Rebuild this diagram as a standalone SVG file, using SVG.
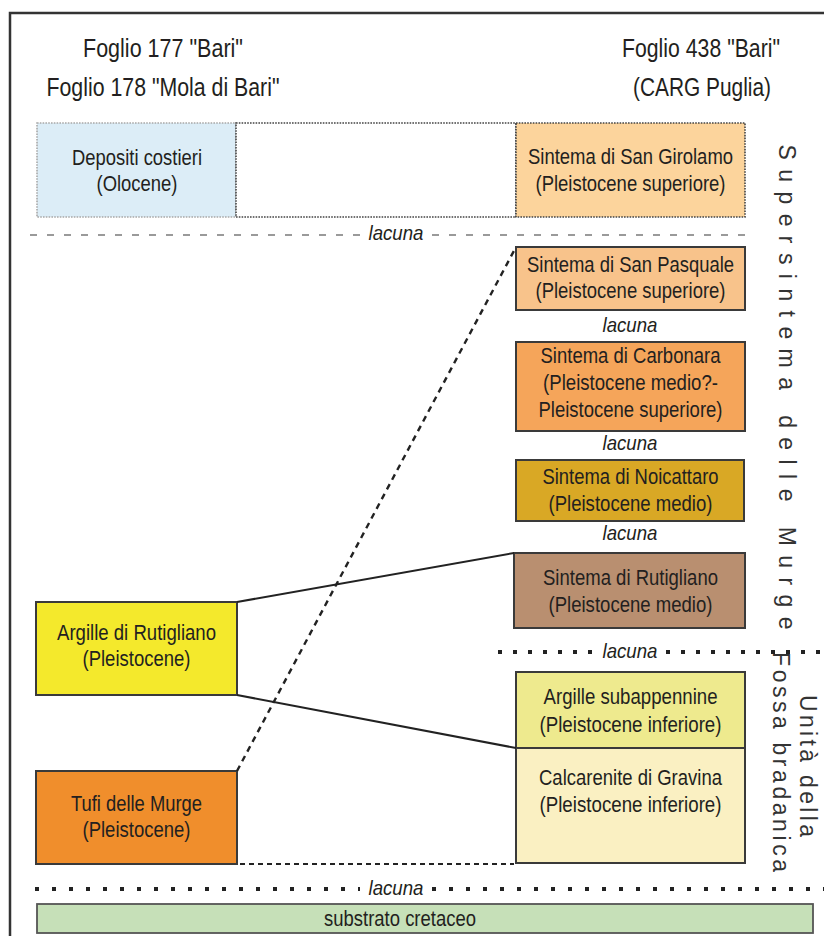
<svg xmlns="http://www.w3.org/2000/svg" width="824" height="936" viewBox="0 0 824 936">
<style>
text{font-family:"Liberation Sans",Arial,sans-serif;fill:#231f20}
.h{font-size:25px;text-anchor:middle}
.b{font-size:21.5px;text-anchor:middle}
.l{font-size:21px;font-style:italic;text-anchor:middle}
.v{font-size:23px;text-anchor:middle;fill:#333}
.box{stroke:#3a3a3a;stroke-width:2}
.dotbox{stroke:#444;stroke-width:1.6;stroke-dasharray:1.6 1.2}
.conn{fill:none;stroke:#222}
.gdash{stroke:#9a9a9a;stroke-width:2;stroke-dasharray:7 10}
.dots{stroke:#222;stroke-width:4;stroke-dasharray:4 11}
.dots2{stroke:#222;stroke-width:4;stroke-dasharray:4 13}
</style>
<rect x="0" y="0" width="824" height="936" fill="#ffffff"/>
<rect x="10" y="13" width="900" height="1000" fill="none" stroke="#333" stroke-width="2.5"/>

<g id="headers">
<text class="h" x="163" y="57" textLength="160" lengthAdjust="spacingAndGlyphs">Foglio 177 "Bari"</text>
<text class="h" x="163" y="96" textLength="233" lengthAdjust="spacingAndGlyphs">Foglio 178 "Mola di Bari"</text>
<text class="h" x="701" y="57" textLength="158" lengthAdjust="spacingAndGlyphs">Foglio 438 "Bari"</text>
<text class="h" x="702" y="96" textLength="138" lengthAdjust="spacingAndGlyphs">(CARG Puglia)</text>
</g>

<g id="depositi-costieri">
<rect x="37" y="123" width="199" height="94" fill="#dcedf7" stroke="#a8a8a8" stroke-width="1.6" stroke-dasharray="1.6 1.2"/>
<text class="b" x="137" y="165" textLength="130" lengthAdjust="spacingAndGlyphs">Depositi costieri</text>
<text class="b" x="137" y="191" textLength="81" lengthAdjust="spacingAndGlyphs">(Olocene)</text>
</g>

<g id="vuoto">
<rect x="236" y="123" width="280" height="94" fill="#ffffff" class="dotbox"/>
</g>

<g id="san-girolamo">
<rect x="516" y="123" width="229" height="94" fill="#fcd49c" class="dotbox"/>
<text class="b" x="630.5" y="164" textLength="205" lengthAdjust="spacingAndGlyphs">Sintema di San Girolamo</text>
<text class="b" x="630.5" y="191" textLength="190" lengthAdjust="spacingAndGlyphs">(Pleistocene superiore)</text>
</g>

<g id="san-pasquale">
<rect x="516" y="247" width="229" height="63" fill="#f8c38b" class="box"/>
<text class="b" x="630.5" y="272" textLength="207" lengthAdjust="spacingAndGlyphs">Sintema di San Pasquale</text>
<text class="b" x="630.5" y="298" textLength="190" lengthAdjust="spacingAndGlyphs">(Pleistocene superiore)</text>
</g>

<g id="carbonara">
<rect x="516" y="342" width="229" height="89" fill="#f5a55a" class="box"/>
<text class="b" x="630.5" y="363" textLength="180" lengthAdjust="spacingAndGlyphs">Sintema di Carbonara</text>
<text class="b" x="630.5" y="390" textLength="175" lengthAdjust="spacingAndGlyphs">(Pleistocene medio?-</text>
<text class="b" x="630.5" y="417" textLength="184" lengthAdjust="spacingAndGlyphs">Pleistocene superiore)</text>
</g>

<g id="noicattaro">
<rect x="516" y="460" width="228" height="61" fill="#d9a825" class="box"/>
<text class="b" x="630.5" y="484" textLength="176" lengthAdjust="spacingAndGlyphs">Sintema di Noicattaro</text>
<text class="b" x="630.5" y="511" textLength="164" lengthAdjust="spacingAndGlyphs">(Pleistocene medio)</text>
</g>

<g id="rutigliano">
<rect x="514" y="553" width="231" height="75" fill="#b98f70" class="box"/>
<text class="b" x="630.5" y="585" textLength="175" lengthAdjust="spacingAndGlyphs">Sintema di Rutigliano</text>
<text class="b" x="630.5" y="612" textLength="164" lengthAdjust="spacingAndGlyphs">(Pleistocene medio)</text>
</g>

<g id="argille-subappennine">
<rect x="516" y="672" width="229" height="76" fill="#eeea8e" class="box"/>
<text class="b" x="630.5" y="704" textLength="174" lengthAdjust="spacingAndGlyphs">Argille subappennine</text>
<text class="b" x="630.5" y="732" textLength="182" lengthAdjust="spacingAndGlyphs">(Pleistocene inferiore)</text>
</g>

<g id="calcarenite-gravina">
<rect x="516" y="748" width="229" height="115" fill="#faf0c2" class="box"/>
<text class="b" x="630.5" y="785" textLength="183" lengthAdjust="spacingAndGlyphs">Calcarenite di Gravina</text>
<text class="b" x="630.5" y="812" textLength="182" lengthAdjust="spacingAndGlyphs">(Pleistocene inferiore)</text>
</g>

<g id="argille-rutigliano">
<rect x="36" y="602" width="201" height="93" fill="#f4e92c" class="box"/>
<text class="b" x="136.5" y="640" textLength="159" lengthAdjust="spacingAndGlyphs">Argille di Rutigliano</text>
<text class="b" x="136.5" y="666" textLength="108" lengthAdjust="spacingAndGlyphs">(Pleistocene)</text>
</g>

<g id="tufi-murge">
<rect x="36" y="771" width="201" height="93" fill="#f08e2c" class="box"/>
<text class="b" x="136.5" y="811" textLength="131" lengthAdjust="spacingAndGlyphs">Tufi delle Murge</text>
<text class="b" x="136.5" y="837" textLength="108" lengthAdjust="spacingAndGlyphs">(Pleistocene)</text>
</g>

<g id="substrato">
<rect x="37" y="904" width="776" height="29" fill="#c6e0b8" stroke="#555" stroke-width="1.8"/>
<text class="b" x="400" y="926" textLength="152" lengthAdjust="spacingAndGlyphs">substrato cretaceo</text>
</g>

<g id="lacune">
<line x1="30" y1="235" x2="360" y2="235" class="gdash"/>
<line x1="432" y1="235" x2="745" y2="235" class="gdash"/>
<text class="l" x="396" y="240" textLength="55" lengthAdjust="spacingAndGlyphs">lacuna</text>
<text class="l" x="630" y="332" textLength="55" lengthAdjust="spacingAndGlyphs">lacuna</text>
<text class="l" x="630" y="450" textLength="55" lengthAdjust="spacingAndGlyphs">lacuna</text>
<text class="l" x="630" y="540" textLength="55" lengthAdjust="spacingAndGlyphs">lacuna</text>
<line x1="498" y1="652" x2="594" y2="652" class="dots"/>
<line x1="666" y1="652" x2="824" y2="652" class="dots"/>
<text class="l" x="630" y="658" textLength="55" lengthAdjust="spacingAndGlyphs">lacuna</text>
<line x1="35" y1="889" x2="360" y2="889" class="dots2"/>
<line x1="432" y1="889" x2="824" y2="889" class="dots2"/>
<text class="l" x="396" y="895" textLength="55" lengthAdjust="spacingAndGlyphs">lacuna</text>
</g>

<g id="connectors">
<line x1="237" y1="602" x2="514" y2="553" class="conn" stroke-width="2"/>
<line x1="237" y1="695" x2="516" y2="748" class="conn" stroke-width="2"/>
<line x1="237" y1="771" x2="516" y2="247" class="conn" stroke-width="2.4" stroke-dasharray="6 5"/>
<line x1="240" y1="864" x2="514" y2="864" class="conn" stroke="#333" stroke-width="2" stroke-dasharray="5 4"/>
</g>

<g id="etichette-verticali">
<text class="v" x="779" y="387" transform="rotate(90 779 387)" textLength="485" lengthAdjust="spacing">Supersintema delle Murge</text>
<text class="v" x="773" y="762" transform="rotate(90 773 762)" textLength="220" lengthAdjust="spacing">Fossa bradanica</text>
<text class="v" x="800" y="766" transform="rotate(90 800 766)" textLength="142" lengthAdjust="spacing">Unità della</text>
</g>
</svg>
